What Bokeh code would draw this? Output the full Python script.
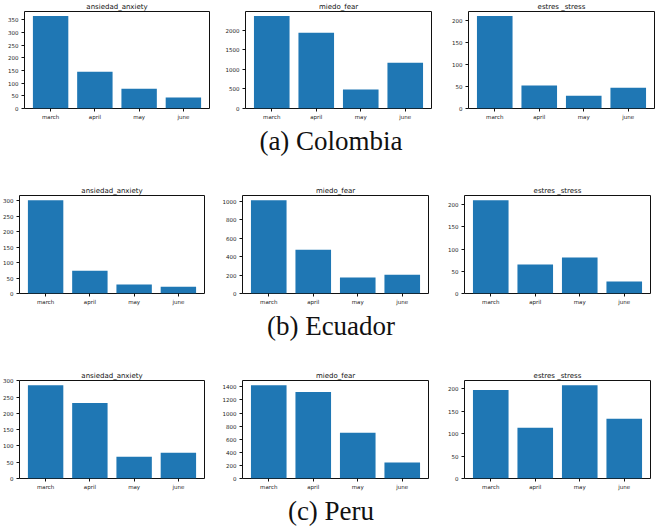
from bokeh.plotting import figure
from bokeh.layouts import column, row
from bokeh.models import Range1d, FixedTicker, SingleIntervalTicker, Div
from bokeh.embed import file_html
from bokeh.resources import INLINE

months = ["march", "april", "may", "june"]
titles = ["ansiedad_anxiety", "miedo_fear", "estres _stress"]
captions = ["(a) Colombia", "(b) Ecuador", "(c) Peru"]

colombia_anxiety = [364, 145, 78, 43]
colombia_fear = [2366, 1940, 485, 1174]
colombia_stress = [209, 52, 29, 47]

ecuador_anxiety = [302, 74, 29, 22]
ecuador_fear = [1014, 475, 173, 205]
ecuador_stress = [210, 65, 81, 27]

peru_anxiety = [287, 232, 67, 79]
peru_fear = [1425, 1319, 697, 243]
peru_stress = [197, 113, 208, 133]

colombia_steps = [50, 500, 50]
ecuador_steps = [50, 200, 50]
peru_steps = [50, 200, 50]

countries = [
    ([colombia_anxiety, colombia_fear, colombia_stress], colombia_steps),
    ([ecuador_anxiety, ecuador_fear, ecuador_stress], ecuador_steps),
    ([peru_anxiety, peru_fear, peru_stress], peru_steps),
]

row_geom = [
    ([(24, 185, 5), (31, 186, 5), (32, 186, 2)], 97),
    ([(19, 185, 5), (33, 186, 5), (31, 186, 2)], 98),
    ([(19, 185, 5), (33, 186, 5), (31, 186, 2)], 98),
]
div_heights = [62, 62, 40]

xs = list(range(len(months)))
BAR = "#1f77b4"


def make_panel(vals, step, title, geom, fh):
    lb, fw, rb = geom
    p = figure(frame_width=fw, frame_height=fh, output_backend="svg",
               toolbar_location=None, min_border_left=lb, min_border_right=rb,
               min_border_top=11, min_border_bottom=14,
               x_range=Range1d(-0.59, len(months) - 1 + 0.59),
               y_range=Range1d(0, max(vals) * 1.05))
    p.vbar(x=xs, top=vals, width=0.8, color=BAR, line_color=None)
    p.title.text = title
    p.title.text_font = "DejaVu Sans"
    p.title.text_font_size = "7px"
    p.title.text_font_style = "normal"
    p.title.align = "center"
    p.title.standoff = 1
    p.title.text_color = "#111111"
    p.xgrid.visible = False
    p.ygrid.visible = False
    p.outline_line_color = "#111111"
    p.outline_line_width = 1
    p.outline_line_alpha = 1
    p.xaxis.ticker = FixedTicker(ticks=xs)
    p.xaxis.major_label_overrides = {i: m for i, m in enumerate(months)}
    p.yaxis.ticker = SingleIntervalTicker(interval=step)
    for ax in (p.xaxis[0], p.yaxis[0]):
        ax.axis_line_color = None
        ax.major_tick_out = 3
        ax.major_tick_in = 0
        ax.minor_tick_line_color = None
        ax.major_tick_line_color = "#111111"
        ax.major_label_text_font = "DejaVu Sans"
        ax.major_label_text_font_size = "5.5px"
        ax.major_label_text_color = "#222222"
        ax.major_label_standoff = 2
    p.background_fill_color = "white"
    p.border_fill_color = "white"
    return p


items = []
for (series, steps), (geoms, fh), cap, dh in zip(countries, row_geom, captions, div_heights):
    figs = [make_panel(v, s, t, g, fh) for v, s, t, g in zip(series, steps, titles, geoms)]
    items.append(row(*figs, spacing=0))
    items.append(Div(text=cap, width=636, height=dh, margin=(0, 0, 0, 13),
                     styles={"font-family": "Liberation Serif", "font-size": "27px",
                             "text-align": "center", "line-height": "38px",
                             "color": "#111111", "width": "636px",
                             "height": f"{dh}px", "overflow": "hidden"}))

layout = column(*items, spacing=0)

open("out.html", "w").write(file_html(layout, INLINE))
